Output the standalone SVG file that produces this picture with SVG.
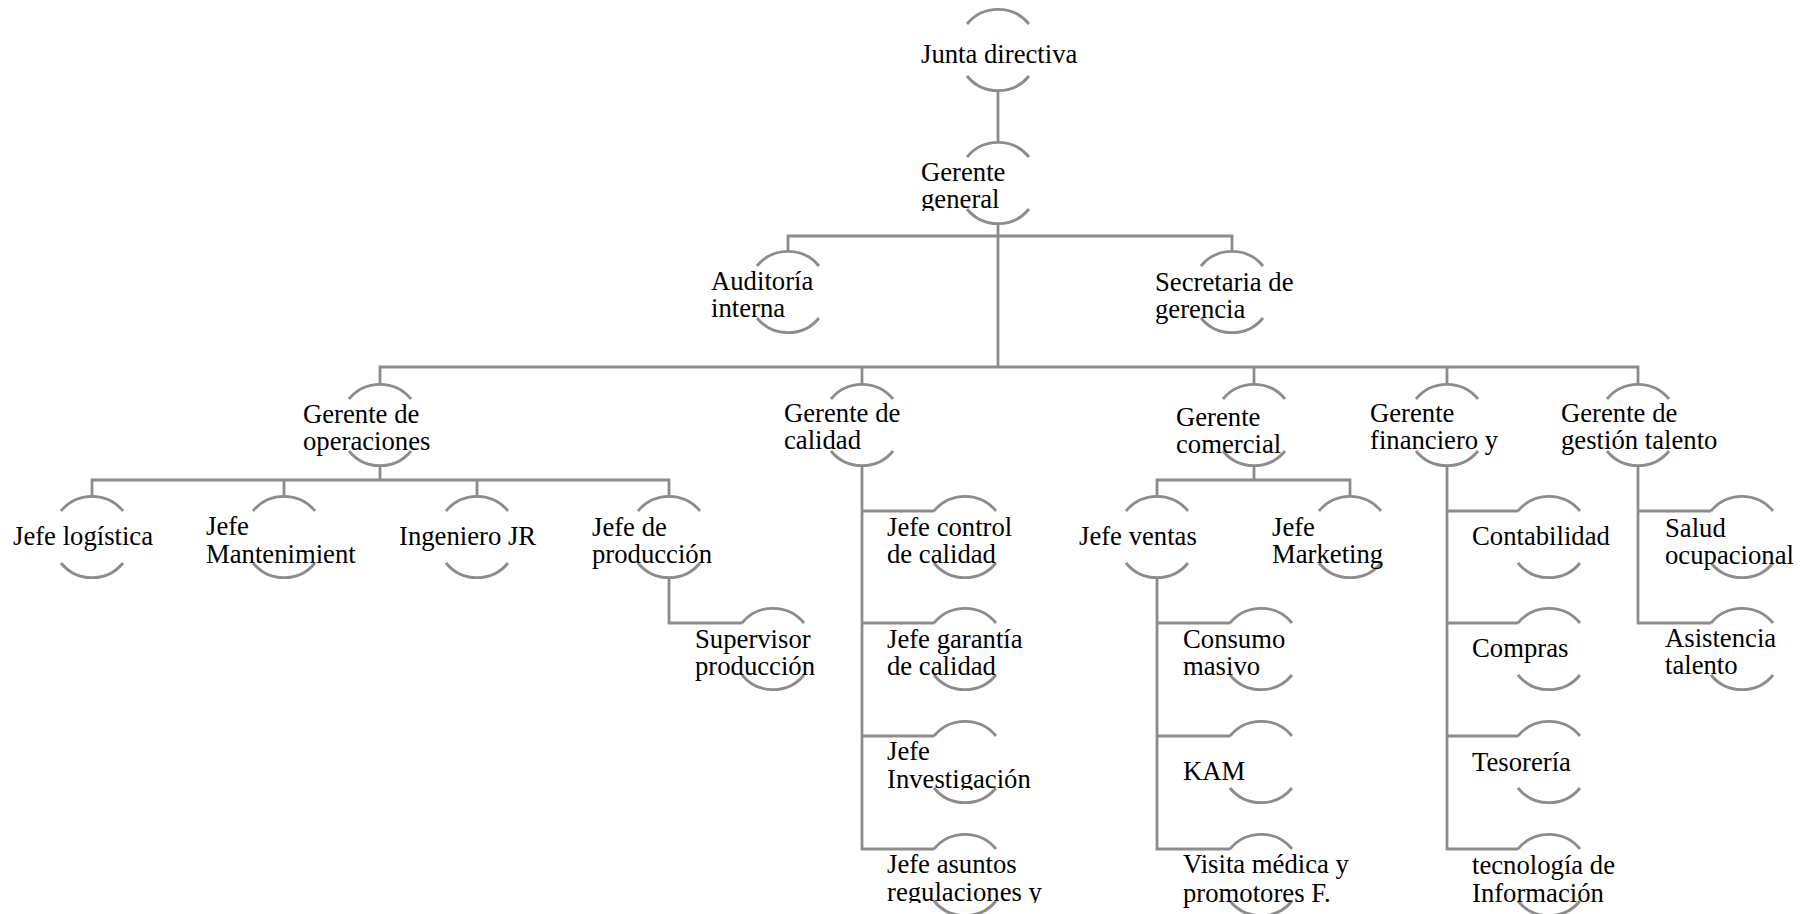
<svg xmlns="http://www.w3.org/2000/svg" width="1808" height="914" viewBox="0 0 1808 914">
<style>
.arc{fill:none;stroke:#8c8c8c;stroke-width:2.8}
.ln{fill:none;stroke:#8c8c8c;stroke-width:2.8}
text{font-family:"Liberation Serif","Times New Roman",serif;font-size:26.7px;fill:#000}
</style>
<defs>
<path id="circ" class="arc" d="M-31,-26 A40,40 0 0 1 31,-26 M-31,26 A40,40 0 0 0 31,26"/>
<clipPath id="cb" clipPathUnits="userSpaceOnUse"><rect x="-85" y="-40" width="190" height="68"/></clipPath>
</defs>
<rect width="1808" height="914" fill="#fff"/>
<g id="connectors" class="ln">
<path d="M998,90 V143"/>
<path d="M998,223 V367"/>
<path d="M788,252 V236 H1232 V252"/>
<path d="M380,385 V367 H1638 V385"/>
<path d="M862,367 V385 M1254,367 V385 M1447,367 V385"/>
<path d="M380,465 V480"/>
<path d="M92,497 V480 H669 V497 M284,480 V497 M477,480 V497"/>
<path d="M669,577 V623 H742"/>
<path d="M862,465 V849 H934 M862,511 H934 M862,623 H934 M862,736 H934"/>
<path d="M1254,465 V480"/>
<path d="M1157,497 V480 H1350 V497"/>
<path d="M1157,577 V849 H1230 M1157,623 H1230 M1157,736 H1230"/>
<path d="M1447,465 V849 H1518 M1447,511 H1518 M1447,623 H1518 M1447,736 H1518"/>
<path d="M1638,465 V623 H1711 M1638,511 H1711"/>
</g>
<g id="junta" transform="translate(998,50)"><use href="#circ"/><text x="-77" y="13">Junta directiva</text></g>
<g id="gerente-general" transform="translate(998,183)"><use href="#circ"/><text clip-path="url(#cb)"><tspan x="-77" y="-2">Gerente</tspan><tspan x="-77" y="25">general</tspan></text></g>
<g id="auditoria" transform="translate(788,292)"><use href="#circ"/><text><tspan x="-77" y="-2">Auditoría</tspan><tspan x="-77" y="25">interna</tspan></text></g>
<g id="secretaria" transform="translate(1232,292)"><use href="#circ"/><text><tspan x="-77" y="-1">Secretaria de</tspan><tspan x="-77" y="26">gerencia</tspan></text></g>
<g id="g-operaciones" transform="translate(380,425)"><use href="#circ"/><text><tspan x="-77" y="-2">Gerente de</tspan><tspan x="-77" y="25">operaciones</tspan></text></g>
<g id="g-calidad" transform="translate(862,425)"><use href="#circ"/><text><tspan x="-78" y="-3">Gerente de</tspan><tspan x="-78" y="24">calidad</tspan></text></g>
<g id="g-comercial" transform="translate(1254,425)"><use href="#circ"/><text><tspan x="-78" y="1">Gerente</tspan><tspan x="-78" y="28">comercial</tspan></text></g>
<g id="g-financiero" transform="translate(1447,425)"><use href="#circ"/><text><tspan x="-77" y="-3">Gerente</tspan><tspan x="-77" y="24">financiero y</tspan></text></g>
<g id="g-talento" transform="translate(1638,425)"><use href="#circ"/><text><tspan x="-77" y="-3">Gerente de</tspan><tspan x="-77" y="24">gestión talento</tspan></text></g>
<g id="logistica" transform="translate(92,537)"><use href="#circ"/><text x="-79" y="8">Jefe logística</text></g>
<g id="mantenimiento" transform="translate(284,537)"><use href="#circ"/><text><tspan x="-78" y="-2">Jefe</tspan><tspan x="-78" y="26">Mantenimient</tspan></text></g>
<g id="ingeniero" transform="translate(477,537)"><use href="#circ"/><text x="-78" y="8">Ingeniero JR</text></g>
<g id="produccion" transform="translate(669,537)"><use href="#circ"/><text><tspan x="-77" y="-1">Jefe de</tspan><tspan x="-77" y="26">producción</tspan></text></g>
<g id="supervisor" transform="translate(773,649)"><use href="#circ"/><text><tspan x="-78" y="-1">Supervisor</tspan><tspan x="-78" y="26">producción</tspan></text></g>
<g id="control-calidad" transform="translate(965,537)"><use href="#circ"/><text><tspan x="-78" y="-1">Jefe control</tspan><tspan x="-78" y="26">de calidad</tspan></text></g>
<g id="garantia-calidad" transform="translate(965,649)"><use href="#circ"/><text><tspan x="-78" y="-1">Jefe garantía</tspan><tspan x="-78" y="26">de calidad</tspan></text></g>
<g id="investigacion" transform="translate(965,762)"><use href="#circ"/><text clip-path="url(#cb)"><tspan x="-78" y="-2">Jefe</tspan><tspan x="-78" y="26">Investigación</tspan></text></g>
<g id="asuntos" transform="translate(965,875)"><use href="#circ"/><text clip-path="url(#cb)"><tspan x="-78" y="-2">Jefe asuntos</tspan><tspan x="-78" y="26">regulaciones y</tspan></text></g>
<g id="ventas" transform="translate(1157,537)"><use href="#circ"/><text x="-78" y="8">Jefe ventas</text></g>
<g id="marketing" transform="translate(1350,537)"><use href="#circ"/><text><tspan x="-78" y="-1">Jefe</tspan><tspan x="-78" y="26">Marketing</tspan></text></g>
<g id="consumo" transform="translate(1261,649)"><use href="#circ"/><text><tspan x="-78" y="-1">Consumo</tspan><tspan x="-78" y="26">masivo</tspan></text></g>
<g id="kam" transform="translate(1261,762)"><use href="#circ"/><text x="-78" y="18">KAM</text></g>
<g id="visita" transform="translate(1261,875)"><use href="#circ"/><text><tspan x="-78" y="-2">Visita médica y</tspan><tspan x="-78" y="27">promotores F.</tspan></text></g>
<g id="contabilidad" transform="translate(1549,537)"><use href="#circ"/><text x="-77" y="8">Contabilidad</text></g>
<g id="compras" transform="translate(1549,649)"><use href="#circ"/><text x="-77" y="8">Compras</text></g>
<g id="tesoreria" transform="translate(1549,762)"><use href="#circ"/><text x="-77" y="9">Tesorería</text></g>
<g id="tecnologia" transform="translate(1549,875)"><use href="#circ"/><text><tspan x="-77" y="-1">tecnología de</tspan><tspan x="-77" y="27">Información</tspan></text></g>
<g id="salud" transform="translate(1742,537)"><use href="#circ"/><text><tspan x="-77" y="0">Salud</tspan><tspan x="-77" y="27">ocupacional</tspan></text></g>
<g id="asistencia" transform="translate(1742,649)"><use href="#circ"/><text><tspan x="-77" y="-2">Asistencia</tspan><tspan x="-77" y="25">talento</tspan></text></g>
</svg>
